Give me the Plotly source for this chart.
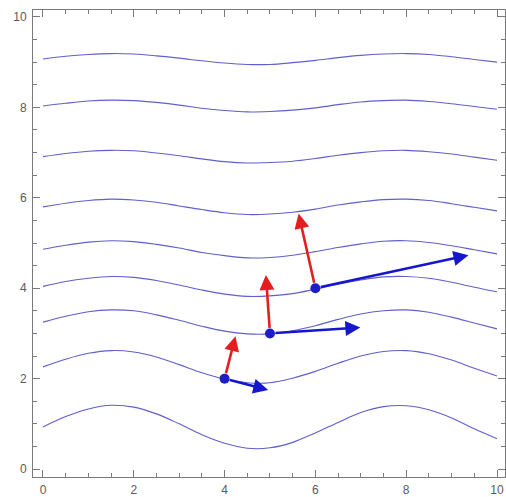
import plotly.graph_objects as go

# ---- data ----
x_samples = [0, 0.5, 1, 1.5, 2, 2.5, 3, 3.5, 4, 4.5, 5, 5.5, 6, 6.5, 7, 7.5, 8, 8.5, 9, 9.5, 10]

contour_1 = [9.07, 9.13, 9.17, 9.19, 9.18, 9.14, 9.09, 9.03, 8.98, 8.95, 8.95, 8.99, 9.04, 9.10, 9.15, 9.18, 9.19, 9.17, 9.12, 9.06, 9.00]
contour_2 = [8.03, 8.09, 8.14, 8.16, 8.15, 8.11, 8.05, 7.98, 7.93, 7.90, 7.91, 7.94, 7.99, 8.06, 8.12, 8.15, 8.16, 8.13, 8.08, 8.02, 7.96]
contour_3 = [6.91, 6.98, 7.03, 7.05, 7.04, 6.99, 6.93, 6.86, 6.80, 6.77, 6.78, 6.81, 6.87, 6.94, 7.00, 7.04, 7.05, 7.02, 6.97, 6.90, 6.83]
contour_4 = [5.80, 5.88, 5.94, 5.97, 5.95, 5.90, 5.82, 5.74, 5.67, 5.63, 5.64, 5.68, 5.75, 5.84, 5.91, 5.96, 5.97, 5.94, 5.87, 5.79, 5.71]
contour_5 = [4.86, 4.95, 5.02, 5.05, 5.03, 4.97, 4.89, 4.79, 4.72, 4.67, 4.68, 4.73, 4.81, 4.90, 4.98, 5.04, 5.05, 5.01, 4.94, 4.85, 4.76]
contour_6 = [4.04, 4.15, 4.22, 4.26, 4.24, 4.17, 4.07, 3.96, 3.87, 3.82, 3.83, 3.88, 3.98, 4.09, 4.18, 4.25, 4.26, 4.22, 4.13, 4.02, 3.92]
contour_7 = [3.25, 3.38, 3.48, 3.52, 3.50, 3.41, 3.29, 3.16, 3.05, 2.99, 2.99, 3.06, 3.17, 3.31, 3.43, 3.50, 3.52, 3.47, 3.36, 3.23, 3.10]
contour_8 = [2.26, 2.43, 2.56, 2.62, 2.59, 2.48, 2.31, 2.13, 1.99, 1.91, 1.91, 2.01, 2.16, 2.34, 2.50, 2.60, 2.62, 2.55, 2.41, 2.23, 2.06]
contour_9 = [0.93, 1.16, 1.33, 1.41, 1.37, 1.22, 1.00, 0.76, 0.57, 0.46, 0.47, 0.59, 0.80, 1.03, 1.25, 1.38, 1.40, 1.31, 1.13, 0.89, 0.67]

point_x = [4, 5, 6]
point_y = [2, 3, 4]
normal_tip_x = [4.24, 4.91, 5.63]
normal_tip_y = [2.94, 4.29, 5.65]
tangent_tip_x = [4.96, 6.99, 9.37]
tangent_tip_y = [1.75, 3.13, 4.73]

tick_values = [0, 2, 4, 6, 8, 10]
tick_labels = ["0", "2", "4", "6", "8", "10"]

# ---- styles ----
line_color = "rgb(95,95,205)"
red = "rgb(228,30,30)"
blue = "rgb(22,22,205)"
frame_color = "#7a7a7a"

fig = go.Figure()

for cy in [contour_1, contour_2, contour_3, contour_4, contour_5,
           contour_6, contour_7, contour_8, contour_9]:
    fig.add_trace(go.Scatter(
        x=x_samples, y=cy, mode="lines",
        line=dict(color=line_color, width=1.1, shape="spline", smoothing=1.0),
        hoverinfo="skip", showlegend=False))

fig.add_trace(go.Scatter(
    x=point_x, y=point_y, mode="markers",
    marker=dict(size=10, color="rgb(30,30,200)", line=dict(width=0)),
    hoverinfo="skip", showlegend=False))

annotations = []
for i in range(len(point_x)):
    for tx, ty, col in ((normal_tip_x[i], normal_tip_y[i], red),
                        (tangent_tip_x[i], tangent_tip_y[i], blue)):
        annotations.append(dict(
            x=tx, y=ty, xref="x", yref="y",
            ax=point_x[i], ay=point_y[i], axref="x", ayref="y",
            showarrow=True, arrowhead=2, arrowsize=1.15, arrowwidth=2.6,
            arrowcolor=col, startstandoff=4, standoff=0, text=""))

axis_common = dict(
    tickmode="array", tickvals=tick_values, ticktext=tick_labels,
    ticks="inside", ticklen=7, tickwidth=1, tickcolor=frame_color,
    showline=True, linecolor=frame_color, linewidth=1, mirror="ticks",
    showgrid=False, zeroline=False,
    tickfont=dict(family="Liberation Sans, Arial, sans-serif", size=12, color="#5a5a5a"),
    minor=dict(dtick=0.5, tick0=0, ticks="inside", ticklen=4,
               tickcolor=frame_color, tickwidth=1, showgrid=False),
)

fig.update_layout(
    width=506, height=497,
    margin=dict(l=33, r=0, t=10, b=17, pad=0),
    paper_bgcolor="white", plot_bgcolor="white",
    xaxis=dict(range=[-0.2198, 10.176], ticklabelstandoff=2, **axis_common),
    yaxis=dict(range=[-0.176, 10.154], ticklabelstandoff=3, **axis_common),
    annotations=annotations,
    showlegend=False,
)

fig.write_html("out.html")
